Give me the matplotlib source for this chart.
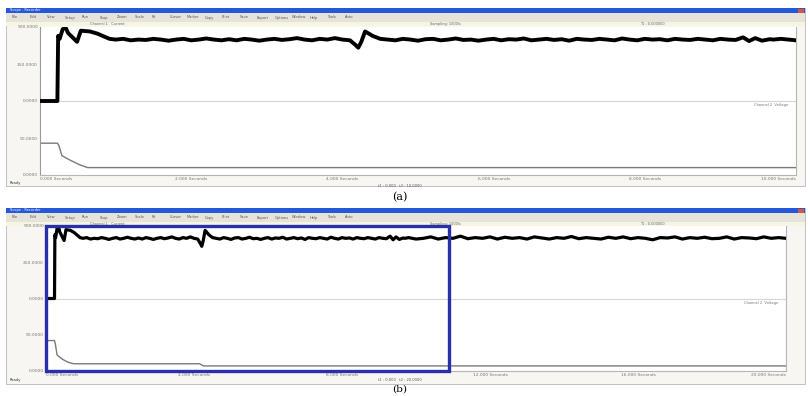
import numpy as np
import matplotlib
matplotlib.use('Agg')
import matplotlib.pyplot as plt
from matplotlib.patches import Rectangle

W, H = 808, 396

# channel 1 (black trace), time base of panel (a): 0..100
t_a = [0, 2.3, 2.4, 2.6, 3.0, 3.4, 3.7, 4.3, 4.9, 5.4, 6.6, 7.6, 8.5, 9.2,
       10, 11, 12, 13, 14, 15, 16, 17, 18, 19,
       20, 21, 22, 23, 24, 25, 26, 27, 28, 29,
       30, 31, 32, 33, 34, 35, 36, 37, 38, 39,
       40, 41, 41.7, 42.1, 42.5, 43.0, 44,
       45, 46, 47, 48, 49,
       50, 51, 52, 53, 54, 55, 56, 57, 58, 59,
       60, 61, 62, 63, 64, 65, 66, 67, 68, 69,
       70, 71, 72, 73, 74, 75, 76, 77, 78, 79,
       80, 81, 82, 83, 84, 85, 86, 87, 88, 89,
       90, 91, 92, 93, 93.8, 94.6, 95.5, 96.5, 97, 98, 99, 100]
v_a = [0, 0, 88, 84, 97, 99, 92, 86, 80, 95, 94, 91, 87, 84,
       83, 84, 82, 83, 82.5, 84, 83, 81.5, 83, 84,
       82, 83, 84.5, 83, 82, 83.5, 82, 84, 83, 81.5,
       83, 84, 82.5, 83.5, 85, 83, 82, 84, 83, 85,
       83, 82, 76, 72, 80, 94, 88,
       84, 83, 82, 84, 83,
       81.5, 83.5, 84, 82, 83, 84.5, 82.5, 83, 81.5, 83,
       84, 82, 83.5, 83, 84.5, 82, 83, 84, 82.5, 83.5,
       81.5, 84, 83, 82.5, 84, 83, 82, 84.5, 83, 82,
       84, 83, 83.5, 82, 84, 83, 82.5, 84, 83, 82,
       84, 83, 82.5, 86, 81, 85, 81.5, 83.5, 83, 84, 83, 82]

# continuation of channel 1 shown in panel (b): 100..200
t_ext = [102, 104, 106, 108, 110, 112, 114, 116, 118, 120,
         122, 124, 126, 128, 130, 132, 134, 136, 138, 140,
         142, 144, 146, 148, 150, 152, 154, 156, 158, 160,
         162, 164, 166, 168, 170, 172, 174, 176, 178, 180,
         182, 184, 186, 188, 190, 192, 194, 196, 198, 200]
v_ext = [83, 85, 82, 84, 83, 86, 82.5, 84, 83, 85,
         82, 84.5, 83, 84, 82, 85, 83.5, 82, 84, 83,
         85.5, 82.5, 84, 83, 82, 84.5, 83, 85, 82.5, 84,
         83, 81, 84, 83.5, 85, 82, 84, 83, 84.5, 82.5,
         83, 85, 82, 84, 83.5, 82.5, 85, 83, 84, 83]

# channel 2 (gray trace)
tg_a = [0, 2.3, 2.5, 2.9, 4.0, 5.2, 6.3, 100]
vg_a = [-57, -57, -60, -74, -80, -86, -90, -90]
tg_b = [0, 2.3, 2.5, 3.0, 4.5, 6.0, 7.5, 41.5, 42.5, 200]
vg_b = [-58, -58, -62, -78, -84, -88, -90, -90, -93, -93]

yticks = [100, 50, 0, -50, -100]
ylabels = ['500.0000', '250.0000', '0.0000', '50.0000', '0.0000']
xticks_a = [0, 20, 40, 60, 80, 100]
xticks_b = [0, 40, 80, 120, 160, 200]
menu = ['File', 'Edit', 'View', 'Setup', 'Run', 'Stop', 'Zoom', 'Scale', 'Fit',
        'Cursor', 'Marker', 'Copy', 'Print', 'Save', 'Export', 'Options', 'Window',
        'Help', 'Tools', 'Auto']


def fr(x0, y0, x1, y1):
    return [x0 / W, 1 - y1 / H, (x1 - x0) / W, (y1 - y0) / H]


def window(bg, x0, y0, x1, y1, n_menu):
    bg.add_patch(Rectangle((x0, y0), x1 - x0, y1 - y0, fc='#f7f6f2', ec='#b8b8b8', lw=0.6))
    bg.add_patch(Rectangle((x0, y0), x1 - x0, 5, fc='#2458d8', ec='none'))
    bg.add_patch(Rectangle((x1 - 7, y0 + 0.5), 6, 4, fc='#d8553a', ec='none'))
    bg.text(x0 + 4, y0 + 2.5, 'Scope - Recorder', fontsize=2.5, color='white', va='center')
    bg.add_patch(Rectangle((x0, y0 + 5), x1 - x0, 9, fc='#e6e4da', ec='none'))
    for i, m in enumerate(menu[:n_menu]):
        bg.text(x0 + 6 + i * 17.5, y0 + 9.5, m, fontsize=2.6, color='#555555', va='center')
    bg.add_patch(Rectangle((x0, y0 + 14), x1 - x0, 4, fc='#f7f4e2', ec='none'))


fig = plt.figure(figsize=(W / 100, H / 100), dpi=100)
bg = fig.add_axes([0, 0, 1, 1])
bg.set_xlim(0, W)
bg.set_ylim(H, 0)
bg.axis('off')

window(bg, 6, 8, 805, 186, 20)
window(bg, 6, 208, 805, 384, 20)

for y, txt in [(24, 'Channel 1   Current'), (224, 'Channel 1   Current')]:
    bg.text(90, y, txt, fontsize=2.5, color='#666666', va='center')
    bg.text(430, y, 'Sampling: 1000/s', fontsize=2.5, color='#666666', va='center')
    bg.text(640, y, 'T1 : 0.000000', fontsize=2.5, color='#666666', va='center')

bg.text(10, 183, 'Ready', fontsize=2.6, color='#333333', va='center')
bg.text(10, 380, 'Ready', fontsize=2.6, color='#333333', va='center')
bg.text(400, 186, 't1 : 0.000   t2 : 10.0000', fontsize=2.6, color='#555555', ha='center', va='center')
bg.text(400, 380, 't1 : 0.000   t2 : 20.0000', fontsize=2.6, color='#555555', ha='center', va='center')
bg.text(400, 197, '(a)', fontsize=8, family='DejaVu Serif', ha='center', va='center')
bg.text(400, 389.5, '(b)', fontsize=7.5, family='DejaVu Serif', ha='center', va='center')


def scope(ax, t1, v1, tg, vg, xt, tmax, lw):
    ax.axhline(0, color='#d6d6d6', lw=0.8, zorder=1)
    ax.plot(tg, vg, color='#7a7a7a', lw=1.0, zorder=2)
    ax.plot(t1, v1, color='black', lw=lw, solid_joinstyle='round', zorder=3)
    ax.set_xlim(0, tmax)
    ax.set_ylim(-100, 100)
    ax.set_yticks(yticks)
    ax.set_yticklabels(ylabels)
    ax.set_xticks(xt)
    ax.set_xticklabels(['%.3f Seconds' % (x / 10) for x in xt])
    labs = ax.get_xticklabels()
    labs[0].set_ha('left')
    labs[-1].set_ha('right')
    ax.tick_params(length=0, labelsize=3.2, colors='#777777', pad=1.5)
    ax.spines['top'].set_visible(False)
    ax.spines['left'].set_color('#9a9a9a')
    ax.spines['right'].set_color('#b5b5b5')
    ax.spines['bottom'].set_color('#b5b5b5')
    ax.text(0.99, 0.485, 'Channel 2  Voltage', transform=ax.transAxes, fontsize=2.6,
            color='#777777', ha='right', va='top')


ax_a = fig.add_axes(fr(40, 27, 796, 175))
scope(ax_a, t_a, v_a, tg_a, vg_a, xticks_a, 100, 2.8)

t_b = t_a + t_ext
v_b = v_a + v_ext
ax_b = fig.add_axes(fr(46, 226, 786, 371))
scope(ax_b, t_b, v_b, tg_b, vg_b, xticks_b, 200, 2.3)
ax_b.add_patch(Rectangle((0, -100), 109, 200, fill=False, ec='#2a2ea8', lw=2.4,
                         clip_on=False, zorder=4))

fig.savefig('out.png', dpi=100)
